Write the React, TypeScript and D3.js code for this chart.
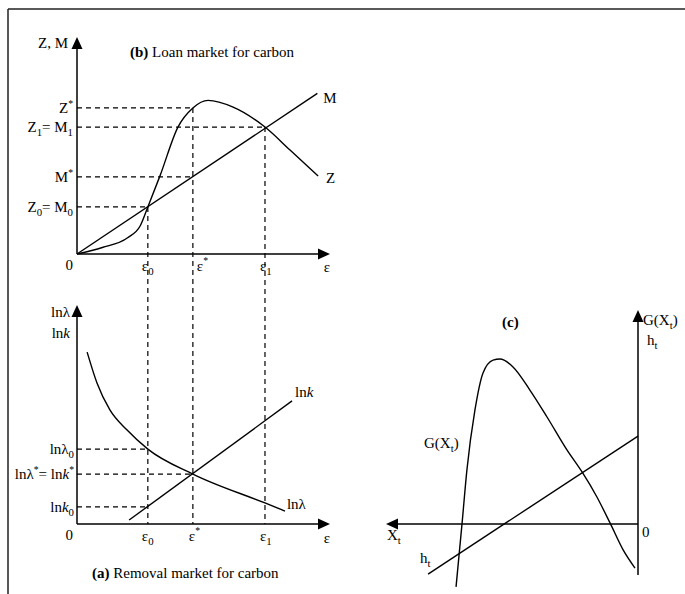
import React from "react";
import * as d3 from "d3";

// ---------- Data (abstract units) ----------
// Panel (b): loan market
const epsMarks = { e0: 2.8, eStar: 4.58, e1: 7.43 };
const zmLevels = { z0: 2.17, mStar: 3.55, z1: 5.85, zStar: 6.73 };
const mLine: [number, number][] = [[0, 0], [9.5, 7.4]];
const zCurve: [number, number][] = [
  [0, 0], [1.0, 0.3], [2.0, 0.75], [2.5, 1.3], [2.8, 2.17],
  [3.28, 3.6], [3.99, 5.85], [4.58, 6.73], [5.18, 7.08], [6.17, 6.77],
  [7.43, 5.85], [8.42, 4.79], [9.53, 3.59],
];
// Panel (a): removal market
const lnLevels = { lam0: 3.42, star: 2.28, k0: 0.78 };
const lnkLine: [number, number][] = [[2.06, 0.18], [8.5, 5.62]];
const lnLamCurve: [number, number][] = [
  [0.4, 7.85], [0.79, 6.44], [1.3, 5.21], [1.98, 4.29], [2.8, 3.42],
  [4.58, 2.28], [7.43, 0.96], [8.22, 0.59],
];
// Panel (c): growth
const hLine: [number, number][] = [[8.33, -2.34], [0, 4.11]];
const gCurve: [number, number][] = [
  [7.22, -2.94], [6.98, 0.05], [6.79, 2.52], [6.47, 5.33], [6.15, 7.06],
  [5.75, 7.66], [5.48, 7.71], [4.96, 7.34], [4.29, 6.26], [3.61, 5.0],
  [2.82, 3.46], [2.22, 2.43], [1.63, 1.26], [1.11, 0.05], [0.59, -1.21], [0.12, -2.06],
];

const FONT = "Liberation Serif, Times New Roman, serif";
const FS = 15;

const Arrow = ({ x, y, dir }: { x: number; y: number; dir: "up" | "right" | "left" }) => {
  const L = 12, W = 5.5;
  let pts = "";
  if (dir === "up") pts = `${x},${y} ${x - W},${y + L} ${x + W},${y + L}`;
  if (dir === "right") pts = `${x},${y} ${x - L},${y - W} ${x - L},${y + W}`;
  if (dir === "left") pts = `${x},${y} ${x + L},${y - W} ${x + L},${y + W}`;
  return <polygon points={pts} fill="#000" />;
};

const Sub = ({ children }: { children: React.ReactNode }) => (
  <tspan fontSize={FS * 0.72} dy={4}>{children}</tspan>
);
const Sup = () => <tspan fontSize={FS * 0.65} dy={-6}>*</tspan>;

export default function App() {
  const xB = d3.scaleLinear().domain([0, 10]).range([77, 330]);
  const yB = d3.scaleLinear().domain([0, 10]).range([254, 37]);
  const xA = xB;
  const yA = d3.scaleLinear().domain([0, 10]).range([524, 305]);
  const xC = d3.scaleLinear().domain([0, 10]).range([638, 386]);
  const yC = d3.scaleLinear().domain([0, 10]).range([524, 310]);

  const lineB = d3.line<[number, number]>().x(d => xB(d[0])).y(d => yB(d[1])).curve(d3.curveMonotoneX);
  const lineA = d3.line<[number, number]>().x(d => xA(d[0])).y(d => yA(d[1])).curve(d3.curveMonotoneX);
  const lineC = d3.line<[number, number]>().x(d => xC(d[0])).y(d => yC(d[1])).curve(d3.curveMonotoneX);

  const dash = { stroke: "#000", strokeWidth: 1.2, strokeDasharray: "5,4", fill: "none" };
  const solid = { stroke: "#000", strokeWidth: 1.4, fill: "none" };
  const axis = { stroke: "#000", strokeWidth: 1.5 };

  const xAxisB = yB(0);
  const xAxisA = yA(0);

  return (
    <svg width={685} height={594} style={{ position: "absolute", left: 0, top: 0, fontFamily: FONT, fontSize: FS }}>
      <rect x={0} y={0} width={685} height={594} fill="#fff" />
      <line x1={8} y1={9} x2={685} y2={9} stroke="#222" strokeWidth={1.5} />
      <line x1={8} y1={9} x2={8} y2={594} stroke="#222" strokeWidth={1.5} />

      {/* ===== Panel (b) ===== */}
      <line x1={xB(0)} y1={xAxisB} x2={xB(0)} y2={yB(10) + 8} {...axis} />
      <Arrow x={xB(0)} y={yB(10)} dir="up" />
      <line x1={xB(0)} y1={xAxisB} x2={xB(10) - 8} y2={xAxisB} {...axis} />
      <Arrow x={xB(10)} y={xAxisB} dir="right" />

      <line x1={xB(0)} x2={xB(epsMarks.eStar)} y1={yB(zmLevels.zStar)} y2={yB(zmLevels.zStar)} {...dash} />
      <line x1={xB(0)} x2={xB(epsMarks.e1)} y1={yB(zmLevels.z1)} y2={yB(zmLevels.z1)} {...dash} />
      <line x1={xB(0)} x2={xB(epsMarks.eStar)} y1={yB(zmLevels.mStar)} y2={yB(zmLevels.mStar)} {...dash} />
      <line x1={xB(0)} x2={xB(epsMarks.e0)} y1={yB(zmLevels.z0)} y2={yB(zmLevels.z0)} {...dash} />
      <line x1={xB(epsMarks.e0)} x2={xB(epsMarks.e0)} y1={yB(zmLevels.z0)} y2={xAxisA} {...dash} />
      <line x1={xB(epsMarks.eStar)} x2={xB(epsMarks.eStar)} y1={yB(zmLevels.zStar)} y2={xAxisA} {...dash} />
      <line x1={xB(epsMarks.e1)} x2={xB(epsMarks.e1)} y1={yB(zmLevels.z1)} y2={xAxisA} {...dash} />

      <path d={lineB(mLine) || ""} {...solid} />
      <path d={lineB(zCurve) || ""} {...solid} />

      <text x={68} y={48} textAnchor="end">Z, M</text>
      <text x={130} y={57}><tspan fontWeight="bold">(b)</tspan> Loan market for carbon</text>
      <text x={73} y={yB(zmLevels.zStar) + 5} textAnchor="end">Z<Sup /></text>
      <text x={73} y={yB(zmLevels.z1) + 5} textAnchor="end">Z<Sub>1</Sub><tspan dy={-4}>= M</tspan><Sub>1</Sub></text>
      <text x={73} y={yB(zmLevels.mStar) + 5} textAnchor="end">M<Sup /></text>
      <text x={73} y={yB(zmLevels.z0) + 5} textAnchor="end">Z<Sub>0</Sub><tspan dy={-4}>= M</tspan><Sub>0</Sub></text>
      <text x={xB(9.5) + 6} y={yB(7.4) + 10}>M</text>
      <text x={xB(9.53) + 8} y={yB(3.59) + 7}>Z</text>

      <text x={xB(0) - 4} y={270} textAnchor="end">0</text>
      <text x={xB(epsMarks.e0) - 6} y={271}>ε<Sub>0</Sub></text>
      <text x={xB(epsMarks.eStar) + 4} y={271}>ε<tspan fontSize={FS * 0.65} dy={-7}>*</tspan></text>
      <text x={xB(epsMarks.e1) - 5} y={271}>ε<Sub>1</Sub></text>
      <text x={xB(9.75)} y={272}>ε</text>

      {/* ===== Panel (a) ===== */}
      <line x1={xA(0)} y1={xAxisA} x2={xA(0)} y2={yA(10) + 8} {...axis} />
      <Arrow x={xA(0)} y={yA(10)} dir="up" />
      <line x1={xA(0)} y1={xAxisA} x2={xA(10) - 8} y2={xAxisA} {...axis} />
      <Arrow x={xA(10)} y={xAxisA} dir="right" />

      <line x1={xA(0)} x2={xA(epsMarks.e0)} y1={yA(lnLevels.lam0)} y2={yA(lnLevels.lam0)} {...dash} />
      <line x1={xA(0)} x2={xA(epsMarks.eStar)} y1={yA(lnLevels.star)} y2={yA(lnLevels.star)} {...dash} />
      <line x1={xA(0)} x2={xA(epsMarks.e0)} y1={yA(lnLevels.k0)} y2={yA(lnLevels.k0)} {...dash} />

      <path d={lineA(lnkLine) || ""} {...solid} />
      <path d={lineA(lnLamCurve) || ""} {...solid} />

      <text x={70} y={317} textAnchor="end">lnλ</text>
      <text x={70} y={338} textAnchor="end">ln<tspan fontStyle="italic">k</tspan></text>
      <text x={74} y={yA(lnLevels.lam0) + 5} textAnchor="end">lnλ<Sub>0</Sub></text>
      <text x={74} y={yA(lnLevels.star) + 5} textAnchor="end">lnλ<Sup /><tspan dy={6}>= ln</tspan><tspan fontStyle="italic">k</tspan><Sup /></text>
      <text x={74} y={yA(lnLevels.k0) + 5} textAnchor="end">ln<tspan fontStyle="italic">k</tspan><Sub>0</Sub></text>
      <text x={xA(8.5) + 3} y={yA(5.62) - 4}>ln<tspan fontStyle="italic">k</tspan></text>
      <text x={xA(8.22) + 2} y={yA(0.59) - 2}>lnλ</text>

      <text x={xA(0) - 4} y={540} textAnchor="end">0</text>
      <text x={xA(epsMarks.e0) - 6} y={541}>ε<Sub>0</Sub></text>
      <text x={xA(epsMarks.eStar) - 4} y={541}>ε<tspan fontSize={FS * 0.65} dy={-7}>*</tspan></text>
      <text x={xA(epsMarks.e1) - 5} y={541}>ε<Sub>1</Sub></text>
      <text x={xA(9.75)} y={543}>ε</text>
      <text x={92} y={578}><tspan fontWeight="bold">(a)</tspan> Removal market for carbon</text>

      {/* ===== Panel (c) ===== */}
      <line x1={xC(0)} y1={yC(-2.38)} x2={xC(0)} y2={yC(10) + 8} {...axis} />
      <Arrow x={xC(0)} y={yC(10)} dir="up" />
      <line x1={xC(0)} y1={yC(0)} x2={xC(10) + 8} y2={yC(0)} {...axis} />
      <Arrow x={xC(10)} y={yC(0)} dir="left" />

      <path d={lineC(hLine) || ""} {...solid} />
      <path d={lineC(gCurve) || ""} {...solid} />

      <text x={502} y={327} fontWeight="bold">(c)</text>
      <text x={643} y={325}>G(X<Sub>t</Sub><tspan dy={-4}>)</tspan></text>
      <text x={647} y={345}>h<Sub>t</Sub></text>
      <text x={424} y={448}>G(X<Sub>t</Sub><tspan dy={-4}>)</tspan></text>
      <text x={642} y={537}>0</text>
      <text x={387} y={540}>X<Sub>t</Sub></text>
      <text x={420} y={563}>h<Sub>t</Sub></text>
    </svg>
  );
}
